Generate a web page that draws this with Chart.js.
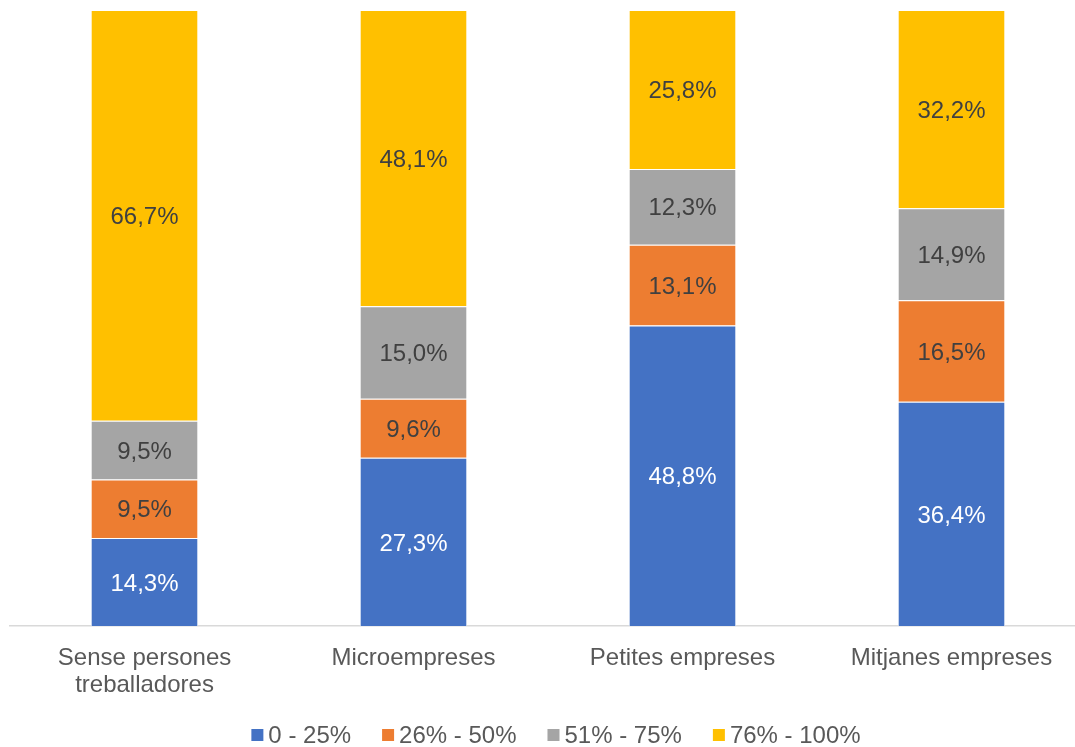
<!DOCTYPE html>
<html>
<head>
<meta charset="utf-8">
<script src="https://cdn.jsdelivr.net/npm/chart.js@4/dist/chart.umd.min.js"></script>
<style>
  html, body { margin: 0; padding: 0; background: #fff; overflow: hidden; }
  #wrap { width: 1096px; height: 747px; }
</style>
</head>
<body>
<div id="wrap"><canvas id="myChart"></canvas></div>
<script>
const categories = [['Sense persones', 'treballadores'], ['Microempreses'], ['Petites empreses'], ['Mitjanes empreses']];
const seriesNames = ['0 - 25%', '26% - 50%', '51% - 75%', '76% - 100%'];
const v0_25 = [14.3, 27.3, 48.8, 36.4];
const v26_50 = [9.5, 9.6, 13.1, 16.5];
const v51_75 = [9.5, 15.0, 12.3, 14.9];
const v76_100 = [66.7, 48.1, 25.8, 32.2];

const colors = ['#4472C4', '#ED7D31', '#A5A5A5', '#FFC000'];
const labelColors = ['#ffffff', '#404040', '#404040', '#404040'];
const FONT = '"Liberation Sans", Arial, sans-serif';

// values in the middle of each bar piece
const barLabels = {
    id: 'barLabels',
    afterDatasetsDraw(chart) {
        const ctx = chart.ctx;
        ctx.save();
        ctx.font = '24px ' + FONT;
        ctx.textAlign = 'center';
        ctx.textBaseline = 'middle';
        chart.data.datasets.forEach((ds, i) => {
            const meta = chart.getDatasetMeta(i);
            meta.data.forEach((bar, j) => {
                const y = (bar.y + bar.base) / 2;
                ctx.fillStyle = labelColors[i];
                ctx.fillText(ds.data[j].toFixed(1).replace('.', ',') + '%', bar.x, y + 2);
            });
        });
        ctx.restore();
    }
};

// category names and legend drawn by hand for exact spacing
const axisAndLegend = {
    id: 'axisAndLegend',
    afterDraw(chart) {
        const ctx = chart.ctx;
        const xs = chart.scales.x;
        const bottom = chart.chartArea.bottom;
        ctx.save();
        ctx.font = '24px ' + FONT;
        ctx.textBaseline = 'middle';
        ctx.textAlign = 'center';
        ctx.fillStyle = '#595959';
        chart.data.labels.forEach((lines, i) => {
            const x = xs.getPixelForValue(i);
            lines.forEach((ln, k) => ctx.fillText(ln, x, bottom + 32 + k * 27));
        });

        // legend
        const box = 12, gapBox = 5, gapItem = 31;
        const widths = seriesNames.map(s => ctx.measureText(s).width);
        let total = 0;
        widths.forEach((w, i) => { total += box + gapBox + w + (i < widths.length - 1 ? gapItem : 0); });
        let x = (chart.chartArea.left + chart.chartArea.right) / 2 - total / 2 + 8;
        const y = bottom + 109;
        ctx.textAlign = 'left';
        seriesNames.forEach((s, i) => {
            ctx.fillStyle = colors[i];
            ctx.fillRect(x, y - box / 2, box, box);
            x += box + gapBox;
            ctx.fillStyle = '#595959';
            ctx.fillText(s, x, y + 1);
            x += widths[i] + gapItem;
        });
        ctx.restore();
    }
};

const datasets = [v0_25, v26_50, v51_75, v76_100].map((d, i) => ({
    label: seriesNames[i],
    data: d,
    backgroundColor: colors[i],
    borderColor: '#ffffff',
    borderWidth: 1,
    categoryPercentage: 1,
    barPercentage: 0.4
}));

new Chart(document.getElementById('myChart'), {
    type: 'bar',
    data: { labels: categories, datasets: datasets },
    plugins: [barLabels, axisAndLegend],
    options: {
        responsive: true,
        maintainAspectRatio: false,
        animation: false,
        layout: { padding: { left: 10, right: 10, top: 10, bottom: 113 } },
        plugins: {
            tooltip: { enabled: false },
            legend: { display: false }
        },
        scales: {
            x: {
                stacked: true,
                grid: { display: false },
                border: { color: '#d9d9d9', width: 1.5 },
                ticks: { display: false }
            },
            y: {
                stacked: true,
                display: false,
                min: 0,
                max: 100
            }
        }
    }
});
</script>
</body>
</html>
